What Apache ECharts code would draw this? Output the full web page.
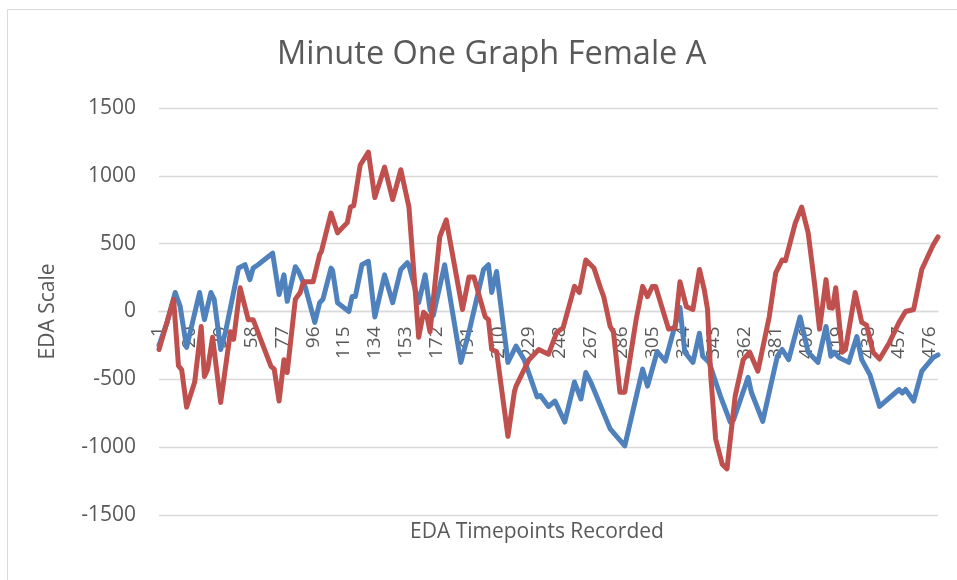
<!DOCTYPE html>
<html>
<head>
<meta charset="utf-8">
<script src="https://cdn.jsdelivr.net/npm/echarts@6/dist/echarts.min.js"></script>
<style>
  html, body { margin: 0; padding: 0; background: #fff; }
  #main { width: 957px; height: 580px; }
</style>
</head>
<body>
<div id="main"></div>
<script>
// timepoints 1..481 on the x axis
const pointCount = 481
const categories = Array.from({ length: pointCount }, (_, i) => String(i + 1))

// [timepoint, EDA] pairs
const seriesBlue = [
  [1,-250],[6,-80],[11,140],[14,40],[15,40],[18,-265],[26,140],[29,-60],[33,140],[35,90],
  [39,-280],[42,-150],[50,320],[54,345],[57,235],[59,320],[62,345],[71,430],[72,420],[75,125],
  [78,270],[80,75],[85,330],[87,295],[91,185],[97,-80],[100,65],[102,90],[107,320],[108,300],
  [111,65],[118,0],[120,110],[122,110],[126,345],[130,370],[134,-40],[140,270],[145,65],[150,310],
  [154,360],[155,340],[161,65],[165,270],[168,15],[170,-30],[177,345],[187,-375],[192,-150],[201,310],
  [204,345],[206,140],[209,295],[216,-375],[221,-255],[226,-355],[234,-630],[236,-620],[241,-700],[245,-660],
  [251,-815],[257,-520],[261,-645],[264,-450],[267,-520],[279,-865],[288,-990],[299,-425],[302,-550],[308,-295],
  [313,-365],[322,30],[325,-300],[330,-375],[334,-160],[336,-330],[340,-375],[344,-520],[347,-625],[353,-815],
  [355,-800],[364,-485],[366,-595],[373,-810],[377,-595],[382,-330],[385,-280],[389,-355],[396,-40],[397,-50],
  [401,-300],[407,-375],[412,-110],[415,-330],[417,-300],[420,-340],[426,-375],[431,-185],[434,-355],[439,-465],
  [445,-700],[457,-575],[459,-600],[461,-575],[466,-660],[471,-440],[478,-340],[481,-320]
]

const seriesRed = [
  [1,-280],[3,-200],[10,90],[13,-400],[15,-430],[18,-705],[23,-520],[27,-110],[29,-480],[31,-425],
  [34,-190],[39,-670],[45,-150],[47,-205],[51,175],[56,-60],[59,-60],[70,-405],[72,-425],[75,-660],
  [78,-355],[80,-450],[85,90],[88,140],[90,220],[96,220],[100,420],[101,440],[107,725],[111,580],
  [117,655],[119,770],[121,780],[125,1080],[130,1175],[134,840],[140,1065],[145,825],[150,1045],[155,770],
  [161,-190],[164,-5],[166,-30],[168,-150],[174,550],[178,675],[188,15],[192,255],[195,255],[202,-40],
  [204,-60],[206,-280],[209,-295],[216,-920],[220,-590],[221,-550],[229,-355],[235,-280],[241,-315],[246,-155],
  [250,-120],[257,185],[260,140],[264,380],[269,320],[273,175],[275,110],[279,-110],[281,-150],[285,-595],
  [288,-595],[295,-60],[299,185],[302,110],[305,185],[307,185],[315,-130],[319,-120],[322,220],[326,35],
  [330,15],[334,310],[337,160],[339,15],[341,-480],[344,-940],[348,-1125],[351,-1160],[356,-625],[361,-355],
  [365,-300],[370,-440],[377,-40],[381,285],[385,380],[387,375],[393,650],[397,770],[401,580],[405,200],
  [408,-130],[412,235],[414,30],[416,25],[418,175],[422,-300],[424,-280],[430,140],[434,-80],[437,-100],
  [441,-300],[445,-350],[451,-230],[457,-80],[461,0],[466,15],[471,310],[478,490],[481,550]
]

const yTicks = { min: -1500, max: 1500, step: 500 }

const toIndex = arr => arr.map(p => [p[0] - 1, p[1]])
const textColor = '#595959'
const font = 'Open Sans'

// plot area in px; the category axis sits on the zero line
const plotTop = 108
const plotBottom = 65
const plotHeight = 580 - plotTop - plotBottom
const zeroOffset = -plotHeight * (0 - yTicks.min) / (yTicks.max - yTicks.min)

let myChart = echarts.init(document.getElementById('main'))
const options = {
  animation: false,
  title: {
    text: 'Minute One Graph Female A',
    left: 272,
    top: 33,
    textStyle: { fontFamily: font, fontSize: 32.5, fontWeight: 'normal', color: textColor }
  },
  grid: { left: 159, right: 19, top: plotTop, bottom: plotBottom, containLabel: false },
  xAxis: {
    type: 'category',
    data: categories,
    boundaryGap: false,
    position: 'bottom',
    offset: zeroOffset,
    axisLine: { onZero: false, lineStyle: { color: '#d9d9d9', width: 1.3 } },
    axisTick: { show: false },
    axisLabel: {
      interval: 18,
      rotate: 90,
      margin: 15,
      color: textColor,
      fontFamily: font,
      fontSize: 19
    },
    splitLine: { show: false }
  },
  yAxis: {
    type: 'value',
    min: yTicks.min,
    max: yTicks.max,
    interval: yTicks.step,
    name: 'EDA Scale',
    nameLocation: 'middle',
    nameRotate: 90,
    nameGap: 100,
    nameTextStyle: { fontFamily: font, fontSize: 21, color: textColor },
    axisLine: { show: false },
    axisTick: { show: false },
    axisLabel: {
      margin: 23,
      color: textColor,
      fontFamily: font,
      fontSize: 21,
      formatter: v => String(v)
    },
    splitLine: { lineStyle: { color: '#d9d9d9', width: 1.3 } }
  },
  graphic: [
    {
      type: 'rect',
      shape: { x: 7.5, y: 9.5, width: 980, height: 600 },
      style: { fill: null, stroke: '#d9d9d9', lineWidth: 1 },
      silent: true
    },
    {
      type: 'text',
      left: 410,
      top: 522,
      style: { text: 'EDA Timepoints Recorded', font: '21px "Open Sans"', fill: textColor }
    }
  ],
  series: [
    {
      name: 'Blue',
      type: 'line',
      data: toIndex(seriesBlue),
      showSymbol: false,
      lineStyle: { color: '#4f81bd', width: 5, join: 'round', cap: 'round' },
      itemStyle: { color: '#4f81bd' }
    },
    {
      name: 'Red',
      type: 'line',
      data: toIndex(seriesRed),
      showSymbol: false,
      lineStyle: { color: '#c0504d', width: 5, join: 'round', cap: 'round' },
      itemStyle: { color: '#c0504d' }
    }
  ]
}
myChart.setOption(options)
</script>
</body>
</html>
